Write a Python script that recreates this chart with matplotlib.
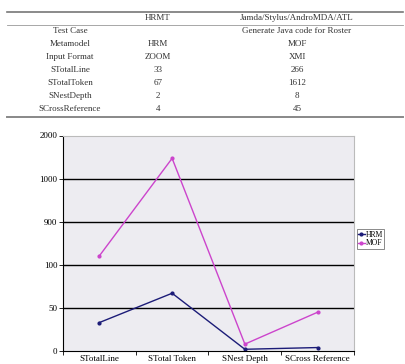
import numpy as np
import matplotlib.pyplot as plt

plt.rcParams['font.family'] = ['Liberation Serif', 'DejaVu Serif']

# table data
col_heads = ['', 'HRMT', 'Jamda/Stylus/AndroMDA/ATL']
row_names = ['Test Case', 'Metamodel', 'Input Format', 'STotalLine',
             'STotalToken', 'SNestDepth', 'SCrossReference']
hrmt_col = ['', 'HRM', 'ZOOM', '33', '67', '2', '4']
jamda_col = ['Generate Java code for Roster', 'MOF', 'XMI', '266', '1612', '8', '45']

# chart data
categories = ['STotalLine', 'STotal Token', 'SNest Depth', 'SCross Reference']
hrm = [33, 67, 2, 4]
mof = [266, 1470, 8, 45]
ytick_vals = [0, 50, 100, 900, 1000, 2000]

W, H = 406, 364
fig = plt.figure(figsize=(W / 100, H / 100), dpi=100)

# ---- table drawn on a full-figure axes in pixel coords
tax = fig.add_axes([0, 0, 1, 1])
tax.set_xlim(0, W)
tax.set_ylim(H, 0)
tax.axis('off')
fs = 6.5
tax.plot([7, 403], [12, 12], color='#777777', lw=1.2)
tax.plot([7, 403], [24.5, 24.5], color='#999999', lw=0.6)
tax.plot([7, 403], [117, 117], color='#888888', lw=1.4)
xs = [70, 158, 297]
for x, t in zip(xs, col_heads):
    tax.text(x, 18, t, ha='center', va='center', fontsize=fs, color='#333333')
for i, (r, a, b) in enumerate(zip(row_names, hrmt_col, jamda_col)):
    y = 31 + i * 13
    for x, t in zip(xs, [r, a, b]):
        tax.text(x, y, t, ha='center', va='center', fontsize=fs, color='#333333')

# ---- chart with piecewise y scale
pos = np.arange(len(ytick_vals))


def fwd(v):
    return np.interp(v, ytick_vals, pos)


def inv(p):
    return np.interp(p, pos, ytick_vals)


ax = fig.add_axes([63 / W, 1 - 351 / H, (354 - 63) / W, (351 - 135.5) / H])
ax.set_facecolor('#EDECF1')
ax.set_yscale('function', functions=(fwd, inv))
ax.set_ylim(0, 2000)
ax.set_xlim(-0.5, len(categories) - 0.5)
x = np.arange(len(categories))
ax.plot(x, hrm, color='#1C1C78', lw=1.0, marker='o', ms=2, label='HRM')
ax.plot(x, mof, color='#CC44CC', lw=1.0, marker='o', ms=2, label='MOF')
for v in ytick_vals[1:-1]:
    ax.axhline(v, color='black', lw=1.0, zorder=1)
ax.set_yticks(ytick_vals)
ax.set_yticklabels([str(v) for v in ytick_vals], fontsize=6.5)
ax.yaxis.set_minor_locator(plt.NullLocator())
ax.set_xticks(x)
ax.set_xticklabels(categories, fontsize=6.5)
ax.set_xticks(np.arange(-0.5, len(categories)), minor=True)
ax.tick_params(axis='x', which='major', length=0, pad=3)
ax.tick_params(axis='x', which='minor', length=3, width=0.6)
ax.tick_params(axis='y', length=3, width=0.6, pad=1)
for s in ['top', 'right']:
    ax.spines[s].set_color('#BBBBBB')
    ax.spines[s].set_linewidth(0.8)
for s in ['left', 'bottom']:
    ax.spines[s].set_color('black')
    ax.spines[s].set_linewidth(0.8)

leg = ax.legend(loc='center left', bbox_to_anchor=(1.01, 0.52), fontsize=5.5,
                frameon=True, fancybox=False, handlelength=0.8, handletextpad=0.1,
                borderpad=0.2, labelspacing=0.1, borderaxespad=0)
leg.get_frame().set_edgecolor('#555555')
leg.get_frame().set_linewidth(0.6)

fig.savefig('out.png', dpi=100)
